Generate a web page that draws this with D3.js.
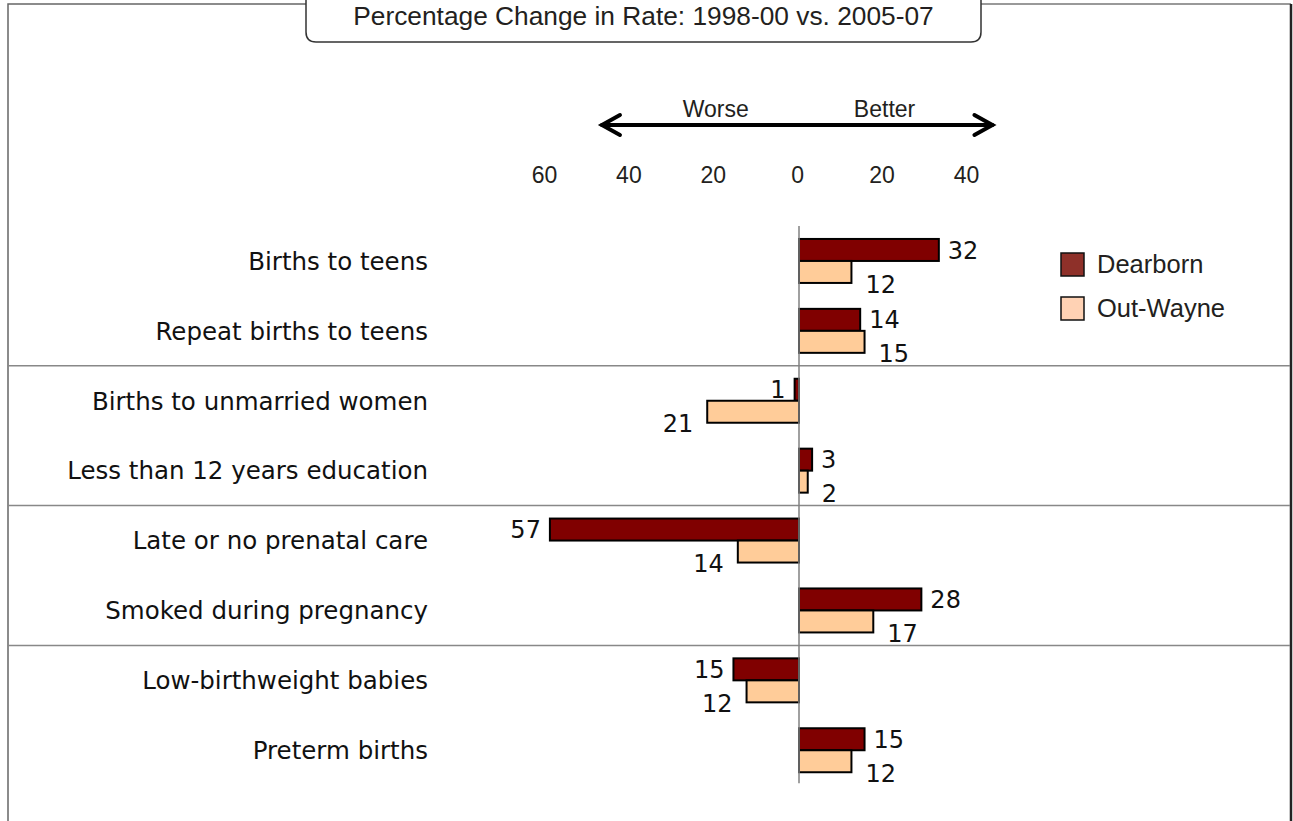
<!DOCTYPE html>
<html>
<head>
<meta charset="utf-8">
<script src="https://cdn.jsdelivr.net/npm/d3@7"></script>
<style>
  body { margin: 0; background: #fff; }
</style>
</head>
<body>
<svg id="chart_svg"></svg>
<script>
// values (positive = better, negative = worse)
const categories = [
    "Births to teens",
    "Repeat births to teens",
    "Births to unmarried women",
    "Less than 12 years education",
    "Late or no prenatal care",
    "Smoked during pregnancy",
    "Low-birthweight babies",
    "Preterm births"
]
const seriesNames = ["Dearborn", "Out-Wayne"]
const dearborn = [32, 14, -1, 3, -57, 28, -15, 15]
const outWayne = [12, 15, -21, 2, -14, 17, -12, 12]
const tickValues = [-60, -40, -20, 0, 20, 40]
const title = "Percentage Change in Rate: 1998-00 vs. 2005-07"

const width = 1293
const height = 821
const barFill = { "Dearborn": "#800000", "Out-Wayne": "#ffcc99" }
const legendFill = { "Dearborn": "#8e3029", "Out-Wayne": "#ffd2b4" }

const svg = d3.select("#chart_svg")
    .attr('width', width)
    .attr('height', height)
    .style('background', '#fff')

const rows = categories.map((c, i) => ({
    category: c,
    values: [
        { series: "Dearborn", value: dearborn[i] },
        { series: "Out-Wayne", value: outWayne[i] }
    ]
}))

// scales
const xScale = d3.scaleLinear().domain([-60, 40]).range([536.8, 973.8])
const tickScale = d3.scaleLinear().domain([-60, 40]).range([544, 966])

const yScale = d3.scaleBand()
    .domain(categories)
    .range([226, 785.2])
    .padding(0)

const ySub = d3.scaleBand()
    .domain(seriesNames)
    .range([0, yScale.bandwidth()])
    .paddingInner(0)
    .paddingOuter(0.589)

// frame and title tab
const tabLeft = 306, tabRight = 981, tabBottom = 42, r = 10
svg.append('path')
    .attr('d', `M8,821 L8,4 L${tabLeft},4`)
    .attr('fill', 'none')
    .attr('stroke', '#666')
    .attr('stroke-width', 1.5)
svg.append('path')
    .attr('d', `M${tabRight},4 L1291,4`)
    .attr('fill', 'none')
    .attr('stroke', '#777')
    .attr('stroke-width', 1.5)
svg.append('line')
    .attr('x1', 1291).attr('x2', 1291)
    .attr('y1', 4).attr('y2', 821)
    .attr('stroke', '#222')
    .attr('stroke-width', 2.5)
svg.append('path')
    .attr('d', `M${tabLeft},-2 L${tabLeft},${tabBottom - r} Q${tabLeft},${tabBottom} ${tabLeft + r},${tabBottom}
        L${tabRight - r},${tabBottom} Q${tabRight},${tabBottom} ${tabRight},${tabBottom - r} L${tabRight},-2`)
    .attr('fill', '#fff')
    .attr('stroke', '#333')
    .attr('stroke-width', 1.5)
svg.append('text')
    .attr('x', (tabLeft + tabRight) / 2)
    .attr('y', 24.5)
    .attr('text-anchor', 'middle')
    .style('font-family', '"Liberation Sans", Arial, sans-serif')
    .style('font-size', '26.3px')
    .style('fill', '#231f20')
    .text(title)

// section separators between category pairs
const sepY = [2, 4, 6].map(i => yScale(categories[i]))
svg.append('g')
    .selectAll('line')
    .data(sepY)
    .enter().append('line')
    .attr('x1', 8).attr('x2', 1290)
    .attr('y1', d => d).attr('y2', d => d)
    .attr('stroke', '#888')
    .attr('stroke-width', 1.5)

// worse / better arrow
const arrowY = 125
const ax1 = tickScale(-46.5), ax2 = tickScale(46.5)
const arrow = svg.append('g')
    .attr('fill', 'none')
    .attr('stroke', '#000')
    .attr('stroke-width', 4)
    .attr('stroke-linecap', 'round')
arrow.append('line')
    .attr('x1', ax1 + 1).attr('x2', ax2 - 1)
    .attr('y1', arrowY).attr('y2', arrowY)
arrow.append('path')
    .attr('d', `M${ax1 + 19},${arrowY - 10} L${ax1 + 1},${arrowY} L${ax1 + 19},${arrowY + 10}`)
arrow.append('path')
    .attr('d', `M${ax2 - 19},${arrowY - 10} L${ax2 - 1},${arrowY} L${ax2 - 19},${arrowY + 10}`)

svg.append('g')
    .selectAll('text')
    .data([["Worse", -19.3], ["Better", 20.7]])
    .enter().append('text')
    .attr('x', d => tickScale(d[1]))
    .attr('y', 116.5)
    .attr('text-anchor', 'middle')
    .style('font-family', '"Liberation Sans", Arial, sans-serif')
    .style('font-size', '23px')
    .style('fill', '#231f20')
    .text(d => d[0])

// tick labels (absolute values)
const axis = svg.append('g')
    .attr('transform', 'translate(0, 166)')
    .call(d3.axisBottom(tickScale)
        .tickValues(tickValues)
        .tickSize(0)
        .tickPadding(0)
        .tickFormat(d => Math.abs(d)))
axis.select('.domain').remove()
axis.selectAll('text')
    .attr('dy', '0.72em')
    .style('font-family', '"Liberation Sans", Arial, sans-serif')
    .style('font-size', '23px')
    .style('fill', '#231f20')

// category labels
svg.append('g')
    .selectAll('text')
    .data(categories)
    .enter().append('text')
    .attr('x', 428)
    .attr('y', d => yScale(d) + yScale.bandwidth() / 2)
    .attr('dy', '0.36em')
    .attr('text-anchor', 'end')
    .style('font-family', '"DejaVu Sans", sans-serif')
    .style('font-size', '24.5px')
    .style('fill', '#111')
    .text(d => d)

// bars
const groups = svg.append('g')
    .selectAll('g')
    .data(rows)
    .enter().append('g')
    .attr('transform', d => `translate(0, ${yScale(d.category)})`)

groups.selectAll('rect')
    .data(d => d.values)
    .enter().append('rect')
    .attr('x', d => xScale(Math.min(0, d.value)))
    .attr('y', d => ySub(d.series))
    .attr('width', d => Math.abs(xScale(d.value) - xScale(0)))
    .attr('height', ySub.bandwidth())
    .style('fill', d => barFill[d.series])
    .style('stroke', '#000')
    .style('stroke-width', '2')

// zero line
svg.append('line')
    .attr('x1', xScale(0)).attr('x2', xScale(0))
    .attr('y1', yScale.range()[0]).attr('y2', yScale.range()[1] - 2)
    .attr('stroke', '#808080')
    .attr('stroke-width', 1.5)

// value labels
groups.selectAll('text')
    .data(d => d.values)
    .enter().append('text')
    .attr('x', d => {
        const gap = d.series == "Dearborn" ? 9 : 14
        return d.value >= 0 ? xScale(d.value) + gap : xScale(d.value) - gap
    })
    .attr('y', d => ySub(d.series) + ySub.bandwidth() / 2 + (d.series == "Dearborn" ? 0 : 12))
    .attr('dy', '0.36em')
    .attr('text-anchor', d => d.value >= 0 ? 'start' : 'end')
    .style('font-family', '"DejaVu Sans", sans-serif')
    .style('font-size', '24px')
    .style('fill', '#111')
    .text(d => Math.abs(d.value))

// legend
const legend = svg.append('g')
    .selectAll('g')
    .data(seriesNames)
    .enter().append('g')
    .attr('transform', (d, i) => `translate(1061, ${253 + i * 44})`)
legend.append('rect')
    .attr('width', 23)
    .attr('height', 23)
    .style('fill', d => legendFill[d])
    .style('stroke', '#111')
    .style('stroke-width', '1.5')
legend.append('text')
    .attr('x', 36)
    .attr('y', 20)
    .style('font-family', '"Liberation Sans", Arial, sans-serif')
    .style('font-size', '25.5px')
    .style('fill', '#231f20')
    .text(d => d)
</script>
</body>
</html>
